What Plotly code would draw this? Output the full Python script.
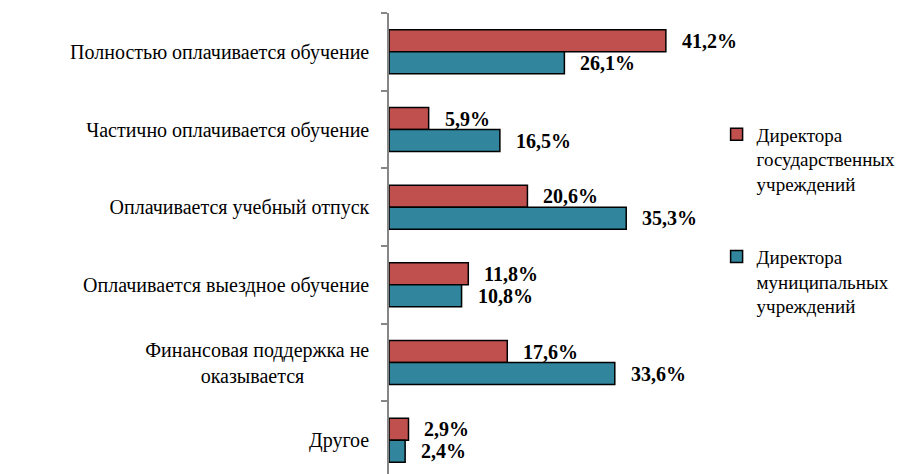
import plotly.graph_objects as go

categories = [
    "Полностью оплачивается обучение",
    "Частично оплачивается обучение",
    "Оплачивается учебный отпуск",
    "Оплачивается выездное обучение",
    "Финансовая поддержка не<br>оказывается" + "\u00a0" * 13,
    "Другое",
]
state_vals = [41.2, 5.9, 20.6, 11.8, 17.6, 2.9]
muni_vals = [26.1, 16.5, 35.3, 10.8, 33.6, 2.4]
series_names = [
    "Директора<br>государственных<br>учреждений",
    "Директора<br>муниципальных<br>учреждений",
]
colors = ["#C0504D", "#31859C"]

SERIF = "Times New Roman"

fig = go.Figure()
for i, (vals, name, col) in enumerate(zip([state_vals, muni_vals], series_names, colors)):
    fig.add_trace(go.Bar(
        y=categories, x=vals, orientation="h", name=name,
        legendgroup=f"g{i}",
        marker=dict(color=col, line=dict(color="black", width=1.5)),
    ))

annotations = []
for vals, ysh in [(state_vals, 11), (muni_vals, -11)]:
    for c, v in zip(categories, vals):
        annotations.append(dict(
            x=v, y=c, xref="x", yref="y", xanchor="left", yanchor="middle",
            xshift=14, yshift=ysh, showarrow=False,
            text="<b>" + f"{v:.1f}".replace(".", ",") + "%</b>",
            font=dict(family=SERIF, size=20, color="black"),
        ))

fig.update_layout(
    width=910, height=474,
    margin=dict(l=381, r=193, t=5, b=3),
    paper_bgcolor="white", plot_bgcolor="white",
    font=dict(family=SERIF, size=18, color="black"),
    barmode="group", bargap=0.433, bargroupgap=0,
    showlegend=True,
    legend=dict(
        x=0.975, y=0.78, xanchor="left", yanchor="top",
        font=dict(family=SERIF, size=19, color="black"),
        tracegroupgap=45, traceorder="grouped", valign="top",
        bgcolor="rgba(0,0,0,0)",
    ),
    annotations=annotations,
    xaxis=dict(range=[0, 50], visible=False, showgrid=False, zeroline=False),
    yaxis=dict(
        range=[5.5, -0.5], showgrid=False, zeroline=False,
        showline=True, linecolor="#868686", linewidth=1.5,
        ticks="outside", ticklen=6, tickcolor="#868686", tickwidth=1.5,
        tickson="boundaries", ticklabelstandoff=14,
        tickfont=dict(family=SERIF, size=20, color="black"),
    ),
)

fig.write_html("out.html")
